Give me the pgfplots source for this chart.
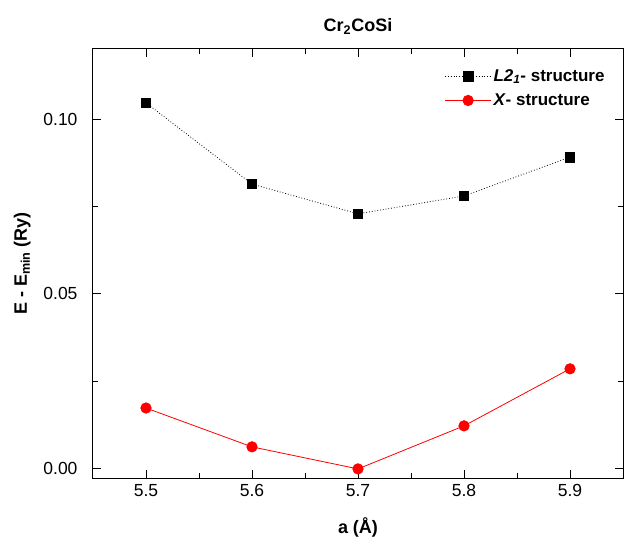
\documentclass[border=0pt]{standalone}
\usepackage{fontspec}
\setmainfont{Liberation Sans}
\usepackage{pgfplots}
\pgfplotsset{compat=1.18}
\begin{document}
\begin{tikzpicture}
\begin{axis}[
  scale only axis,
  width=530pt, height=429pt,
  xmin=5.45, xmax=5.95,
  ymin=-0.0026, ymax=0.1200,
  xtick={5.5,5.6,5.7,5.8,5.9},
  ytick={0,0.05,0.10},
  minor xtick={5.55,5.65,5.75,5.85},
  minor ytick={0.025,0.075},
  tick align=inside,
  major tick length=8pt, minor tick length=5pt,
  every tick/.style={black, line width=0.9pt},
  axis line style={line width=1pt},
  /pgf/number format/assume math mode=true,
  yticklabel style={/pgf/number format/.cd, fixed, fixed zerofill, precision=2, /tikz/.cd, xshift=-12pt},
  xticklabel style={/pgf/number format/.cd, fixed, fixed zerofill, precision=1, /tikz/.cd, yshift=-3pt},
  tick label style={font=\fontsize{17.5}{20}\selectfont},
  xlabel={\textbf{a (Å)}},
  ylabel={\textbf{E - E\textsubscript{min} (Ry)}},
  label style={font=\fontsize{18}{20}\selectfont},
  xlabel style={yshift=-14pt},
  ylabel style={yshift=6pt},
  title={\textbf{Cr\textsubscript{2}CoSi}},
  title style={font=\fontsize{18}{20}\selectfont, yshift=5pt},
  legend style={at={(0.975,0.962)}, anchor=north east, draw=none, fill=none,
    font=\fontsize{17}{20}\selectfont, row sep=7pt},
  legend cell align=left,
  legend image code/.code={\draw[mark repeat=2, mark phase=2, #1] plot coordinates {(0pt,0pt) (23pt,0pt) (46pt,0pt)};},
]
\addplot[black, dotted, line width=0.8pt, mark=square*, mark size=4.8pt, mark options={solid}]
  coordinates {(5.5,0.1046) (5.6,0.0814) (5.7,0.0729) (5.8,0.0780) (5.9,0.0891)};
\addlegendentry{\textbf{\textit{L2\textsubscript{1}}- structure}}
\addplot[red, solid, line width=0.8pt, mark=*, mark size=5.2pt]
  coordinates {(5.5,0.0174) (5.6,0.0063) (5.7,0.0000) (5.8,0.0123) (5.9,0.0286)};
\addlegendentry{\textbf{\textit{X}- structure}}
\end{axis}
\pgfresetboundingbox
\useasboundingbox ([shift={(-93pt,-60pt)}]current axis.south west) rectangle ([shift={(3pt,49pt)}]current axis.north east);
\end{tikzpicture}
\end{document}
